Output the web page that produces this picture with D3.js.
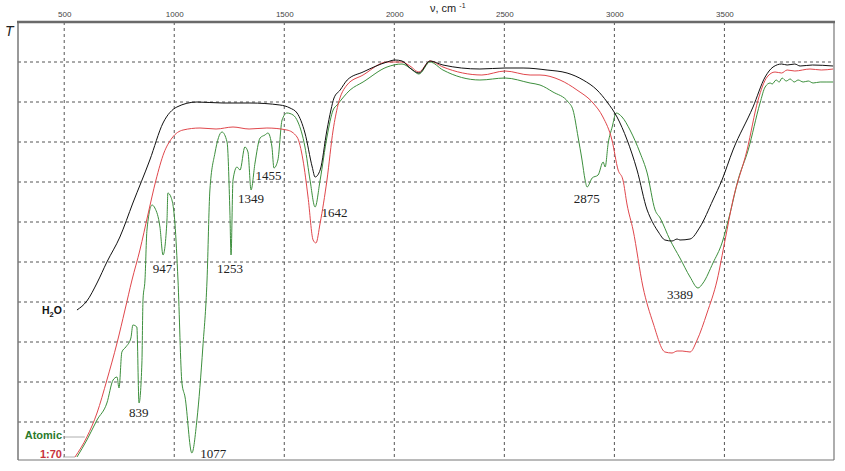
<!DOCTYPE html>
<html><head><meta charset="utf-8">
<script src="https://cdn.jsdelivr.net/npm/d3@7"></script>
<style>body{margin:0;background:#fff}svg{display:block}</style>
</head><body>
<svg id="c" width="845" height="471"></svg>
<script>
// tick labels of the wavenumber axis
const xTicks = [500, 1000, 1500, 2000, 2500, 3000, 3500];
const yGrid = [10, 20, 30, 40, 50, 60, 70, 80, 90, 100];

// series: [wavenumber (cm-1), T (arbitrary, 0..110)]
const h2o = [[558,38],[603,40.25],[649,44.75],[694,50],[753,56.25],[812,64.75],[889,75.5],[949,84.75],[1012,88.75],[1103,90],[1221,89.75],[1344,89.75],[1480,89.25],[1526,88.5],[1558,87.25],[1594,82.25],[1627,73.75],[1640,71.25],[1663,73],[1694,83],[1712,88],[1726,91],[1754,93],[1786,95.5],[1858,97.5],[1967,100],[2003,100.5],[2035,100.25],[2071,98.5],[2112,97.25],[2162,100.25],[2221,99.25],[2389,98.25],[2503,98.5],[2585,98.5],[2694,98],[2785,97.25],[2858,95.5],[2921,93],[2967,90],[3012,86.25],[3058,80.5],[3103,73],[3149,63],[3162,61.25],[3200,57.5],[3230,55.5],[3262,55.25],[3285,55.75],[3298,55.5],[3344,55.75],[3389,58.75],[3448,65.5],[3489,70.5],[3539,78],[3630,88.75],[3685,96.25],[3721,98.75],[3760,99.5],[3785,99.25],[3820,99.5],[3844,99],[3900,99.25],[3994,99]];

const ratio170 = [[549,1.25],[603,6.25],[649,12.25],[694,20.5],[740,29.75],[776,38],[808,45.5],[844,53],[880,61.75],[917,70.5],[953,77.25],[990,81],[1040,83],[1117,83.5],[1190,83.25],[1267,83.75],[1340,83.25],[1421,83.5],[1512,83],[1558,81.25],[1585,75.5],[1608,66.25],[1631,55.5],[1644,54.75],[1663,59.75],[1694,70.5],[1722,83],[1744,89.25],[1785,94.25],[1858,96.75],[1967,100],[2035,100],[2071,99],[2112,97.5],[2162,100.25],[2221,98.75],[2398,96.75],[2503,97.75],[2617,96.75],[2662,96.75],[2753,95.5],[2830,93],[2903,89.75],[2948,86.25],[2989,80.5],[3017,73],[3039,70.5],[3058,64.25],[3085,58],[3130,43.75],[3176,34.75],[3230,27.5],[3262,27.25],[3285,27.75],[3308,27.75],[3344,27.5],[3376,30.5],[3421,37.25],[3467,45.5],[3503,55.5],[3539,65.5],[3603,78],[3653,90.5],[3694,96.25],[3730,97.5],[3760,97.25],[3785,98],[3820,97.75],[3889,98.25],[3940,98],[3994,98.25]];

const atomic = [[558,1.25],[603,5.5],[649,10.5],[694,14.75],[722,20.5],[740,21.25],[749,18.5],[762,27.5],[780,28.75],[803,31],[812,34.25],[830,33.75],[840,14.75],[853,24.75],[858,40.5],[867,45.5],[876,58],[899,64.25],[912,63.5],[935,58.75],[949,51.75],[967,60.5],[971,67.25],[985,66.25],[1003,59.75],[1017,45.5],[1035,19.75],[1049,16.25],[1080,2.25],[1103,10.5],[1130,28.75],[1149,45.5],[1162,68],[1185,77.25],[1217,82.5],[1240,80],[1253,62.25],[1258,51.75],[1267,70.5],[1285,73.75],[1299,73],[1321,78.75],[1335,77.5],[1349,68],[1367,74.75],[1390,81],[1412,81.75],[1426,82.25],[1444,78.75],[1453,73.5],[1471,75.5],[1490,85.5],[1512,87.25],[1540,86.75],[1562,85],[1594,78.75],[1617,70.5],[1640,63.75],[1663,70.5],[1694,81.25],[1722,88],[1740,89.25],[1799,93],[1858,95],[1967,98.75],[2035,99.5],[2071,98.5],[2112,97],[2162,100],[2221,98],[2389,95.5],[2503,96],[2617,94.75],[2662,94.25],[2721,92.5],[2790,90],[2812,88],[2835,81.25],[2853,75.5],[2867,70.5],[2876,68.75],[2899,71],[2926,71.75],[2949,75],[2958,73.75],[2972,79.75],[2990,83.75],[3008,87.25],[3035,86.25],[3071,83],[3117,77.25],[3149,72.25],[3185,63],[3208,61],[3253,55.5],[3298,51],[3344,46.25],[3380,43.5],[3403,44.75],[3448,49.75],[3489,54.75],[3526,62.25],[3562,70.5],[3608,78],[3662,89.75],[3685,93.75],[3708,94.75],[3717,94.5],[3735,95.5],[3749,95],[3762,96],[3781,95.25],[3799,95.75],[3817,95],[3835,95.5],[3858,95],[3881,95.25],[3903,94.75],[3935,95],[3962,95],[3994,95]];

// peak annotations
const peakNu = [839, 947, 1077, 1253, 1349, 1455, 1642, 2875, 3389];
const peakLabelT = [11.25, 47.25, 1, 47.25, 64.75, 70.5, 61.25, 64.75, 40.75];

const seriesNames = ["H\u2082O", "Atomic", "1:70"];

// ---- layout ----
const svg = d3.select("#c");
const x = d3.scaleLinear().domain([290, 3998]).range([18, 834]);
const y = d3.scaleLinear().domain([0, 110]).range([462, 22]);
const x0 = x.range()[0], x1 = x.range()[1];
const yTop = y(110), yBot = y(0.5);

// grid
svg.append("g").selectAll("line").data(yGrid).join("line")
  .attr("x1", x0).attr("x2", x1).attr("y1", d => y(d)).attr("y2", d => y(d))
  .attr("stroke", "#555").attr("stroke-width", 1).attr("stroke-dasharray", "3,3");
svg.append("g").selectAll("line").data(xTicks).join("line")
  .attr("x1", d => x(d)).attr("x2", d => x(d)).attr("y1", yTop).attr("y2", yBot)
  .attr("stroke", "#555").attr("stroke-width", 1).attr("stroke-dasharray", "3,3");

// top axis
const ax = d3.axisTop(x).tickValues(xTicks).tickFormat(d3.format("d")).tickSize(0).tickPadding(5);
const axG = svg.append("g").attr("transform", `translate(0,${yTop})`).call(ax);
axG.select(".domain").remove();
axG.selectAll("text").attr("font-family", "Arial, 'Liberation Sans', sans-serif")
  .attr("font-size", 8).attr("fill", "#444");

// frame
svg.append("line").attr("x1", x0).attr("x2", x0).attr("y1", yTop).attr("y2", yBot)
  .attr("stroke", "#777").attr("stroke-width", 1.5);
svg.append("line").attr("x1", x1).attr("x2", x1).attr("y1", yTop).attr("y2", yBot)
  .attr("stroke", "#777").attr("stroke-width", 1.2);
svg.append("line").attr("x1", x0).attr("x2", x1).attr("y1", yBot).attr("y2", yBot)
  .attr("stroke", "#777").attr("stroke-width", 1.2);
svg.append("line").attr("x1", x0 - 1).attr("x2", x1 + 1).attr("y1", yTop).attr("y2", yTop)
  .attr("stroke", "#6a6a6a").attr("stroke-width", 2.5);

// axis titles
const t = svg.append("text").attr("x", 430).attr("y", 12)
  .attr("font-family", "Arial, 'Liberation Sans', sans-serif").attr("font-size", 11).attr("fill", "#222");
t.append("tspan").text("\u03BD, cm ");
t.append("tspan").attr("font-size", 7).attr("dy", -4).text("-1");
svg.append("text").attr("x", 5).attr("y", 36).text("T")
  .attr("font-family", "Arial, 'Liberation Sans', sans-serif").attr("font-style", "italic")
  .attr("font-size", 14).attr("fill", "#222");

// curves
const line = d3.line().x(d => x(d[0])).y(d => y(d[1])).curve(d3.curveMonotoneX);
const curves = [
  {data: atomic, color: "#3d8f3d"},
  {data: ratio170, color: "#e0474c"},
  {data: h2o, color: "#111"}
];
svg.append("g").selectAll("path").data(curves).join("path")
  .attr("d", d => line(d.data)).attr("fill", "none")
  .attr("stroke", d => d.color).attr("stroke-width", 1).attr("stroke-linejoin", "round");

// peak labels
const labelDx = [0, 0, 9, 0, 0, -6, 6, 0, -20];
const labelAnchor = ["middle","middle","start","middle","middle","middle","start","middle","middle"];
svg.append("g").selectAll("text").data(peakNu).join("text")
  .attr("x", (d, i) => x(d) + labelDx[i]).attr("y", (d, i) => y(peakLabelT[i]))
  .attr("text-anchor", (d, i) => labelAnchor[i])
  .attr("font-family", "'Liberation Serif', 'Times New Roman', serif").attr("font-size", 13)
  .attr("fill", "#222").text(d => d);

// series labels
const f = "Arial, 'Liberation Sans', sans-serif";
const h = svg.append("text").attr("x", 42).attr("y", y(37)).attr("font-family", f)
  .attr("font-weight", "bold").attr("font-size", 10.5).attr("fill", "#111");
h.append("tspan").text("H");
h.append("tspan").attr("font-size", 7.5).attr("dy", 3).text("2");
h.append("tspan").attr("dy", -3).text("O");

svg.append("text").attr("x", 62).attr("y", y(5.75)).attr("text-anchor", "end").attr("font-family", f)
  .attr("font-weight", "bold").attr("font-size", 11).attr("fill", "#2b7a2b").text(seriesNames[1]);
svg.append("text").attr("x", 62).attr("y", y(1)).attr("text-anchor", "end").attr("font-family", f)
  .attr("font-weight", "bold").attr("font-size", 11).attr("fill", "#c8323c").text(seriesNames[2]);
// leader lines to curves
svg.append("line").attr("x1", 63).attr("x2", x(atomic[1][0]) - 2).attr("y1", y(6.25)).attr("y2", y(6.25))
  .attr("stroke", "#999").attr("stroke-width", 0.8);
svg.append("line").attr("x1", 63).attr("x2", x(ratio170[0][0])).attr("y1", y(1.25)).attr("y2", y(1.25))
  .attr("stroke", "#999").attr("stroke-width", 0.8);
</script>
</body></html>
